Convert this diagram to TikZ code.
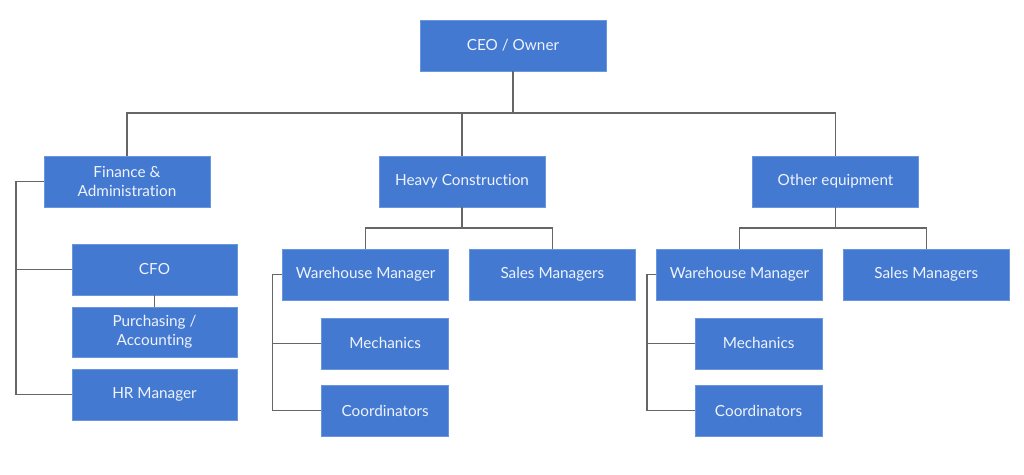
\documentclass[tikz,border=0pt]{standalone}
\usepackage{fontspec}
\setmainfont[Ligatures=NoCommon]{Lato}
\definecolor{boxfill}{HTML}{4479D1}
\definecolor{boxedge}{HTML}{6A96DE}
\definecolor{boxtext}{HTML}{EEF3FC}
\definecolor{linec}{HTML}{666666}
\tikzset{
  orgbox/.style={draw=boxedge, line width=0.6pt, fill=boxfill, text=boxtext,
    minimum width=166pt, minimum height=51pt, inner sep=0pt, align=center,
    font=\fontsize{15.3}{19}\selectfont},
  smallbox/.style={orgbox, minimum width=127pt},
  conn/.style={draw=linec, line width=1.3pt}
}
\begin{document}
\begin{tikzpicture}[x=1pt,y=-1pt]
\useasboundingbox (0,0) rectangle (1024,474);
\fill[white] (0,0) rectangle (1024,474);

\node[orgbox, minimum width=186pt] (ceo) at (513,45.5) {CEO / Owner};
\node[orgbox] (fin) at (127,181.5) {Finance \&\\Administration};
\node[orgbox] (heavy) at (462,181.5) {Heavy Construction};
\node[orgbox] (other) at (835.5,181.5) {Other equipment};

\node[orgbox, minimum width=165pt] (cfo) at (154.5,269.5) {CFO};
\node[orgbox, minimum width=165pt, minimum height=50pt] (purch) at (154.5,332) {Purchasing /\\Accounting};
\node[orgbox, minimum width=165pt] (hr) at (154.5,394.5) {HR Manager};

\node[orgbox] (wm1) at (365.7,274.3) {Warehouse Manager};
\node[orgbox] (sm1) at (552.4,274.3) {Sales Managers};
\node[smallbox] (mech1) at (385.2,343.3) {Mechanics};
\node[smallbox] (coord1) at (385.2,410.5) {Coordinators};

\node[orgbox] (wm2) at (739.5,274.3) {Warehouse Manager};
\node[orgbox] (sm2) at (926.3,274.3) {Sales Managers};
\node[smallbox] (mech2) at (758.6,343.3) {Mechanics};
\node[smallbox] (coord2) at (758.6,410.5) {Coordinators};

% top level
\coordinate (bus) at (513,113);
\draw[conn] (ceo.south) -- (bus);
\draw[conn] (fin.north) |- (bus) -| (other.north);
\draw[conn] (heavy.north) -- (heavy.north |- bus);

% finance
\coordinate (fl) at (16,181.5);
\draw[conn] (fin.west) -- (fl) |- (hr.west);
\draw[conn] (fl |- cfo.west) -- (cfo.west);
\draw[conn] (cfo.south) -- (purch.north);

% heavy construction
\coordinate (hb) at (462,228);
\draw[conn] (heavy.south) -- (hb);
\draw[conn] (wm1.north) |- (hb) -| (sm1.north);
\coordinate (wl1) at (272.3,274.3);
\draw[conn] (wm1.west) -- (wl1) |- (coord1.west);
\draw[conn] (wl1 |- mech1.west) -- (mech1.west);

% other equipment
\coordinate (ob) at (835.5,228);
\draw[conn] (other.south) -- (ob);
\draw[conn] (wm2.north) |- (ob) -| (sm2.north);
\coordinate (wl2) at (647,274.3);
\draw[conn] (wm2.west) -- (wl2) |- (coord2.west);
\draw[conn] (wl2 |- mech2.west) -- (mech2.west);
\end{tikzpicture}
\end{document}
